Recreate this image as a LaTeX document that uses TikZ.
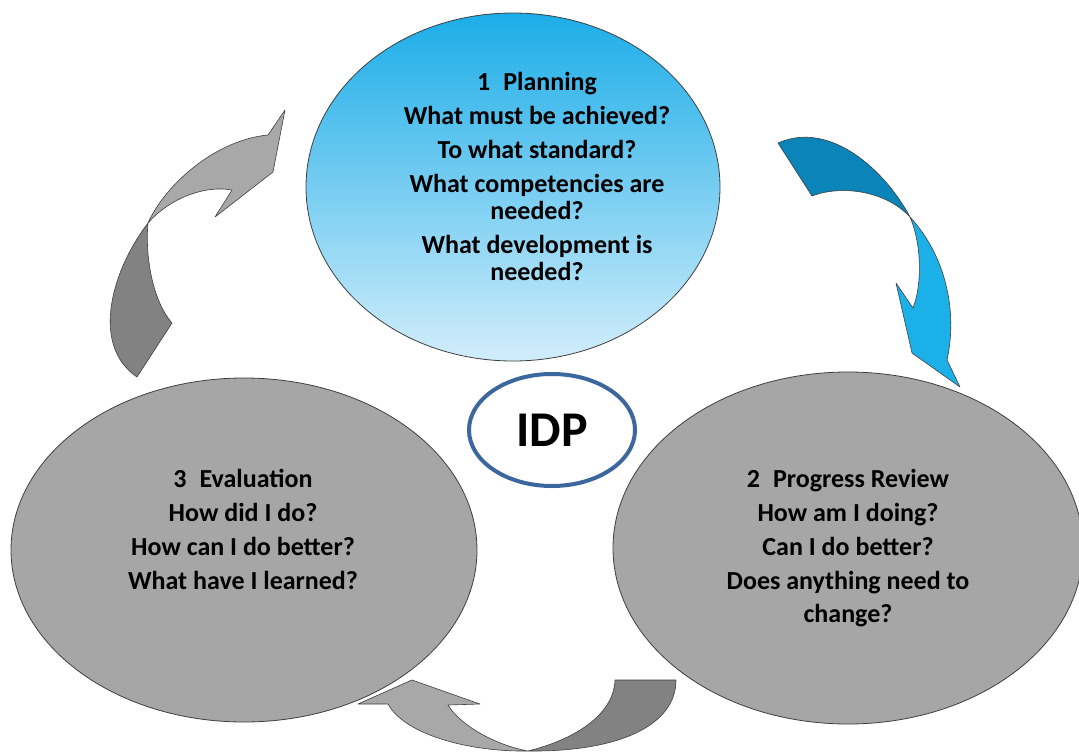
\documentclass[tikz,border=0pt]{standalone}
\usepackage{fontspec}
\setmainfont{Carlito}
\usetikzlibrary{shapes.geometric}
\definecolor{skyTop}{HTML}{1BADE8}
\definecolor{skyBot}{HTML}{D2EDFB}
\definecolor{stageGray}{HTML}{A6A6A6}
\definecolor{greyBack}{HTML}{828282}
\definecolor{greyFront}{HTML}{A8A8A8}
\definecolor{blueBack}{HTML}{0A84B9}
\definecolor{blueFront}{HTML}{1BB0E8}
\definecolor{hubRing}{HTML}{3C679E}
\definecolor{edge}{HTML}{3F3F3F}
\tikzset{
  % ---- stage ellipses --------------------------------------------
  stage/.style    = {ellipse, draw=edge, line width=.8pt, inner sep=0pt},
  stagetxt/.style = {align=center, text=black,
                     font=\fontsize{26}{27}\selectfont\bfseries},
  hub/.style      = {ellipse, draw=hubRing, line width=4pt, fill=white,
                     inner sep=0pt, minimum width=166pt, minimum height=112pt,
                     font=\fontsize{50}{50}\selectfont\bfseries},
  % ---- curved block arrows ---------------------------------------
  band/.style     = {draw=edge, line width=.6pt, line join=round},
}
\begin{document}
\begin{tikzpicture}[x=1pt,y=-1pt]
  \useasboundingbox (0,0) rectangle (1079,753);
  \node[stage, top color=skyTop, bottom color=skyBot,
        minimum width=414pt, minimum height=348pt] (plan) at (513,187) {};
  \node[stage, fill=stageGray, minimum width=470pt, minimum height=352pt] (review) at (848,548) {};
  \node[stage, fill=stageGray, minimum width=466pt, minimum height=344pt] (evalu) at (244,550) {};
  \node[stagetxt] (plantxt) at (537,176) {1\hspace{13pt}Planning\\[7pt]
    What must be achieved?\\[7pt]
    To what standard?\\[7pt]
    What competencies are\\ needed?\\[7pt]
    What development is\\ needed?};
  \node[stagetxt] (reviewtxt) at (848,548) {2\hspace{13pt}Progress Review\\[7pt]
    How am I doing?\\[7pt]
    Can I do better?\\[7pt]
    Does anything need to\\[6pt] change?};
  \node[stagetxt] (evalutxt) at (243,529) {3\hspace{13pt}Evaluation\\[7pt]
    How did I do?\\[7pt]
    How can I do better?\\[7pt]
    What have I learned?};
  \node[hub] (idp) at (552,430) {IDP};
  % planning -> review
  \path[band, fill=blueBack] (778,143) .. controls (830,120) and (885,170) .. (910,217)
    .. controls (885,190) and (840,185) .. (812,196) -- cycle;
  \path[band, fill=blueFront] (910,217) .. controls (922,245) and (922,285) .. (913,308)
    -- (896,283) -- (912,353) -- (960,387) -- (947,360)
    .. controls (958,310) and (945,255) .. (910,217) -- cycle;
  % review -> evaluation
  \path[band, fill=greyBack] (528,751) .. controls (620,752) and (676,725) .. (676,680)
    -- (615,680) .. controls (614,712) and (580,738) .. (528,751) -- cycle;
  \path[band, fill=greyFront] (528,751) .. controls (470,752) and (405,735) .. (388,704)
    -- (358,704) -- (412,680) -- (480,704) -- (448,705)
    .. controls (460,725) and (495,745) .. (528,751) -- cycle;
  % evaluation -> planning
  \path[band, fill=greyBack] (148,223) .. controls (112,270) and (90,345) .. (137,377)
    -- (172,323) .. controls (152,300) and (145,255) .. (148,223) -- cycle;
  \path[band, fill=greyFront] (148,223) .. controls (165,185) and (215,140) .. (268,135)
    -- (285,110) -- (273,172) -- (215,217) -- (232,190)
    .. controls (205,185) and (170,198) .. (148,223) -- cycle;
\end{tikzpicture}
\end{document}
